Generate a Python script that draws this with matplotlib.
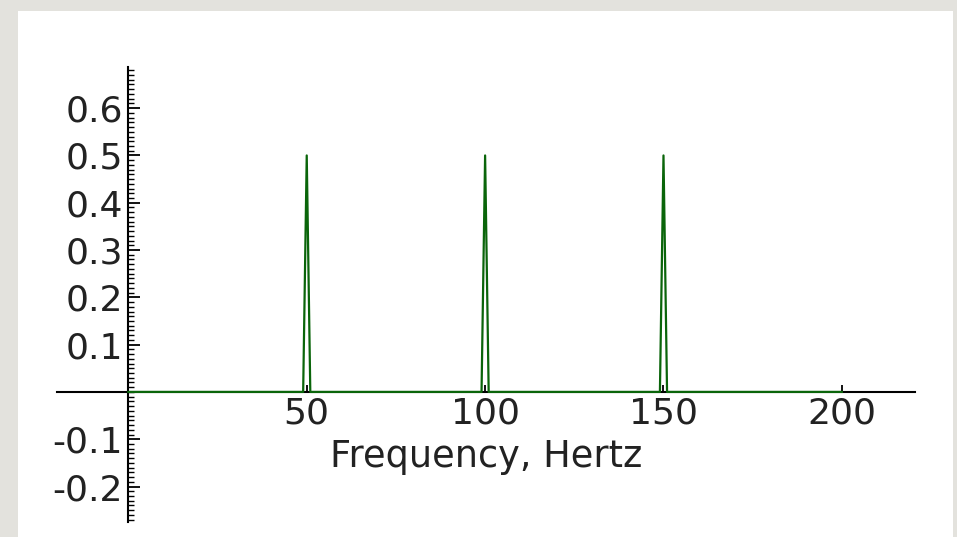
import matplotlib.pyplot as plt
from matplotlib.patches import Rectangle
from matplotlib.ticker import FixedLocator, MultipleLocator

# Spectrum points (Hz, amplitude)
freq = [0, 49, 50, 51, 99, 100, 101, 149, 150, 151, 200]
amplitude = [0, 0, 0.5, 0, 0, 0.5, 0, 0, 0.5, 0, 0]

x_ticks = [50, 100, 150, 200]
y_ticks = [-0.2, -0.1, 0.1, 0.2, 0.3, 0.4, 0.5, 0.6]

fig = plt.figure(figsize=(9.57, 5.37), dpi=100, facecolor='#e3e2dd')
# white card on the grey page, drawn behind the axes
fig.patches.append(Rectangle((18 / 957, 0), 935 / 957, 526 / 537,
                             transform=fig.transFigure, facecolor='white',
                             edgecolor='none', zorder=-10))

ax = fig.add_axes([57 / 957, 15 / 537, 858 / 957, 455 / 537])
ax.set_facecolor('none')

ax.plot(freq, amplitude, color='#0a650a', linewidth=1.6, zorder=3)

ax.set_xlim(-20, 220.5)
ax.set_ylim(-0.275, 0.687)

# axes crossing at the origin
for side in ['top', 'right']:
    ax.spines[side].set_visible(False)
ax.spines['left'].set_position(('data', 0))
ax.spines['bottom'].set_position(('data', 0))
ax.spines['left'].set_linewidth(1.5)
ax.spines['bottom'].set_linewidth(1.5)

ax.xaxis.set_major_locator(FixedLocator(x_ticks))
ax.yaxis.set_major_locator(FixedLocator(y_ticks))
ax.yaxis.set_minor_locator(MultipleLocator(0.01))
ax.set_xticklabels([str(t) for t in x_ticks])
ax.set_yticklabels(['%.1f' % t for t in y_ticks])

ax.tick_params(axis='x', which='major', direction='in', length=5, width=1.3,
               pad=3, labelsize=26, labelcolor='#222222')
ax.tick_params(axis='y', which='major', direction='in', length=8.5, width=1.3,
               pad=4, labelsize=26, labelcolor='#222222')
ax.tick_params(axis='y', which='minor', direction='in', length=4, width=1.0)

ax.set_xlabel('Frequency, Hertz', fontsize=26.5, color='#222222')
ax.xaxis.label.set_va('baseline')
ax.xaxis.set_label_coords(0.5, 55 / 455)

fig.savefig('out.png', dpi=100, facecolor=fig.get_facecolor())
